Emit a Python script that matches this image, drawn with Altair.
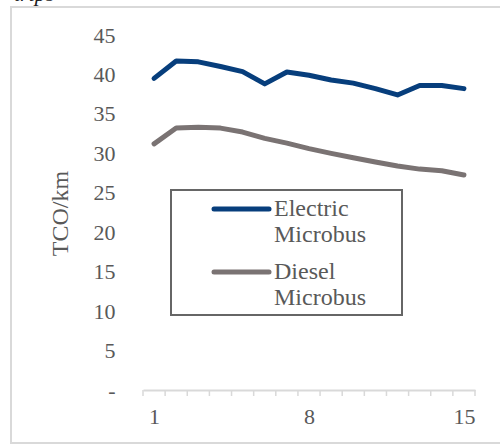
import altair as alt
import pandas as pd

# Total cost of ownership per km over the vehicle's service life (years 1-15)
years = list(range(1, 16))
electric = [39.5, 41.7, 41.6, 41.0, 40.35, 38.8, 40.3, 39.9, 39.3, 38.9, 38.2, 37.4, 38.6, 38.6, 38.2]
diesel = [31.2, 33.2, 33.3, 33.2, 32.7, 31.9, 31.3, 30.6, 30.0, 29.45, 28.9, 28.4, 28.0, 27.8, 27.25]

series_names = ["Electric Microbus", "Diesel Microbus"]
series_colors = ["#073e7c", "#7a7373"]
legend_lines = [["Electric", "Microbus"], ["Diesel", "Microbus"]]

y_ticks = [0, 5, 10, 15, 20, 25, 30, 35, 40, 45]
x_labels = [1, 8, 15]
tick_edges = [y + 0.5 for y in range(0, 16)]  # category boundaries

W, H = 332, 355
FONT = "Liberation Serif"
TEXT_GRAY = "#595959"
AXIS_GRAY = "#d9d9d9"

df = pd.DataFrame(
    {
        "year": years * 2,
        "tco": electric + diesel,
        "series": [series_names[0]] * len(years) + [series_names[1]] * len(years),
    }
)
edges_df = pd.DataFrame({"edge": tick_edges})
one = pd.DataFrame({"k": [0]})

x_scale = alt.Scale(domain=[0.5, 15.5], nice=False, zero=False)
y_scale = alt.Scale(domain=[0, 45], nice=False)

x_axis = alt.Axis(
    values=x_labels, ticks=False, tickSize=0, grid=False, title=None,
    domainColor=AXIS_GRAY, domainWidth=2, labelPadding=16,
    labelFont=FONT, labelFontSize=22, labelColor=TEXT_GRAY,
)

# outer chart frame
frame = alt.Chart(one).mark_rect(fillOpacity=0, stroke=AXIS_GRAY, strokeWidth=2).encode(
    x=alt.value(-132), x2=alt.value(420), y=alt.value(-28), y2=alt.value(408)
)

caption = alt.Chart(one).mark_text(
    text="trips", font=FONT, fontSize=22, fontStyle="italic", align="left",
    baseline="alphabetic", color="#222222"
).encode(x=alt.value(-129), y=alt.value(-34))

lines = alt.Chart(df).mark_line(strokeWidth=5, strokeCap="round", strokeJoin="round").encode(
    x=alt.X("year:Q", scale=x_scale, axis=x_axis, title=None),
    y=alt.Y(
        "tco:Q",
        scale=y_scale,
        axis=alt.Axis(
            values=y_ticks, domain=False, ticks=False, tickSize=0, grid=False,
            labelPadding=28, labelFont=FONT, labelFontSize=22, labelColor=TEXT_GRAY,
            labelExpr="datum.value == 0 ? '-' : datum.label",
            title="TCO/km", titleFont=FONT, titleFontSize=24, titleFontWeight="normal",
            titleColor=TEXT_GRAY, titleAngle=-90, titleX=-83, titleY=178,
            titleAlign="center", titleBaseline="middle",
        ),
    ),
    color=alt.Color("series:N", scale=alt.Scale(domain=series_names, range=series_colors), legend=None),
)

ticks = alt.Chart(edges_df).mark_rule(color=AXIS_GRAY, strokeWidth=1.5).encode(
    x=alt.X("edge:Q", scale=x_scale, axis=x_axis, title=None),
    y=alt.value(H),
    y2=alt.value(H + 6),
)

# legend box
box = alt.Chart(one).mark_rect(fill="white", stroke="#666666", strokeWidth=2).encode(
    x=alt.value(28), x2=alt.value(259), y=alt.value(155), y2=alt.value(280)
)

legend_layers = []
for i, (color, words) in enumerate(zip(series_colors, legend_lines)):
    y0 = 174 + i * 63
    legend_layers.append(
        alt.Chart(one).mark_rule(color=color, strokeWidth=5, strokeCap="round").encode(
            x=alt.value(71), x2=alt.value(126), y=alt.value(y0)
        )
    )
    for j, w in enumerate(words):
        legend_layers.append(
            alt.Chart(one).mark_text(
                text=w, font=FONT, fontSize=24, color=TEXT_GRAY, align="left", baseline="middle"
            ).encode(x=alt.value(131), y=alt.value(y0 + j * 26))
        )

chart = (
    alt.layer(frame, caption, lines, ticks, box, *legend_layers)
    .properties(
        width=W,
        height=H,
        padding={"left": 143, "top": 35, "right": 25, "bottom": 54},
        autosize=alt.AutoSizeParams(type="none"),
        background="white",
    )
    .configure_view(stroke=None)
)

chart.save("out.html", embed_options={"renderer": "svg", "actions": False})
